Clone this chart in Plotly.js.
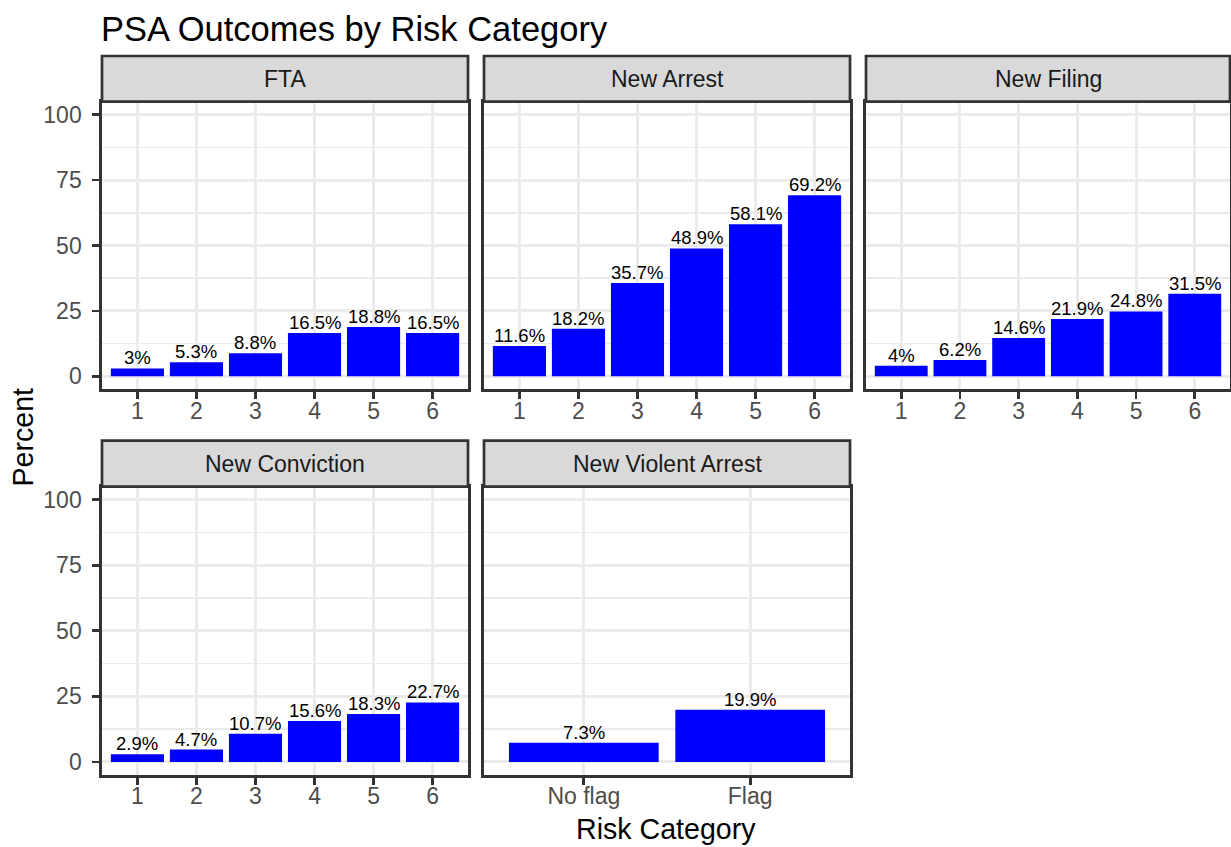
<!DOCTYPE html>
<html>
<head>
<meta charset="utf-8">
<script src="https://cdn.plot.ly/plotly-3.0.1.min.js"></script>
<style>
html,body{margin:0;padding:0;background:#fff;}
#chart{width:1231px;height:847px;}
</style>
</head>
<body>
<div id="chart"></div>
<script>
// ---- data ----
const panelNames = ["FTA", "New Arrest", "New Filing", "New Conviction", "New Violent Arrest"];
const riskCats = ["1", "2", "3", "4", "5", "6"];
const flagCats = ["No flag", "Flag"];
const fta = [3, 5.3, 8.8, 16.5, 18.8, 16.5];
const newArrest = [11.6, 18.2, 35.7, 48.9, 58.1, 69.2];
const newFiling = [4, 6.2, 14.6, 21.9, 24.8, 31.5];
const newConviction = [2.9, 4.7, 10.7, 15.6, 18.3, 22.7];
const newViolentArrest = [7.3, 19.9];
const yTicks = [0, 25, 50, 75, 100];
const yMinor = [12.5, 37.5, 62.5, 87.5];

// ---- layout geometry (pixels) ----
const W = 1231, H = 847;
const FONT = "Liberation Sans, Arial, Helvetica, sans-serif";
const cols = [[102, 468], [484, 850], [866, 1230]];
const rows = [{strip: [56, 101.7], plot: [101.7, 389.3]}, {strip: [440.7, 486.7], plot: [486.7, 775]}];
const panelPos = [[0, 0], [0, 1], [0, 2], [1, 0], [1, 1]];
const panelCats = [riskCats, riskCats, riskCats, riskCats, flagCats];
const panelVals = [fta, newArrest, newFiling, newConviction, newViolentArrest];

const px = v => v / W;
const py = v => 1 - v / H;

const traces = [];
const layout = {
  width: W, height: H,
  margin: {l: 0, r: 0, t: 0, b: 0},
  paper_bgcolor: "#ffffff",
  plot_bgcolor: "#ffffff",
  showlegend: false,
  bargap: 0.1,
  font: {family: FONT, color: "#000000"},
  title: {
    text: "PSA Outcomes by Risk Category",
    x: px(101), xanchor: "left", xref: "paper",
    y: py(29), yanchor: "middle", yref: "paper",
    font: {family: FONT, size: 34.5, color: "#000000"}
  },
  shapes: [],
  annotations: []
};

panelNames.forEach((name, k) => {
  const [r, c] = panelPos[k];
  const cats = panelCats[k];
  const vals = panelVals[k];
  const idx = k === 0 ? "" : String(k + 1);
  const xa = "x" + idx, ya = "y" + idx;
  const col = cols[c], row = rows[r];

  traces.push({
    type: "bar",
    x: cats, y: vals,
    xaxis: xa, yaxis: ya,
    marker: {color: "#0000FF", line: {width: 0}},
    hoverinfo: "x+y"
  });

  layout["xaxis" + idx] = {
    domain: [px(col[0]), px(col[1])],
    anchor: ya,
    type: "category",
    range: [-0.6, cats.length - 0.4],
    showgrid: true, gridcolor: "#EBEBEB", gridwidth: 3,
    showline: true, linecolor: "#333333", linewidth: 2.7, mirror: true,
    ticks: "outside", ticklen: 7, tickwidth: 2.7, tickcolor: "#333333",
    ticklabelstandoff: -8,
    tickfont: {family: FONT, size: 23, color: "#4D4D4D"},
    zeroline: false, fixedrange: true
  };
  const showY = c === 0;
  layout["yaxis" + idx] = {
    domain: [py(row.plot[1]), py(row.plot[0])],
    anchor: xa,
    range: [-5, 105],
    tickmode: "array", tickvals: yTicks, ticktext: yTicks.map(String),
    showticklabels: showY,
    ticks: showY ? "outside" : "", ticklen: 7, tickwidth: 2.7, tickcolor: "#333333",
    ticklabelstandoff: 6,
    tickfont: {family: FONT, size: 23, color: "#4D4D4D"},
    showgrid: true, gridcolor: "#EBEBEB", gridwidth: 3,
    minor: {tickmode: "array", tickvals: yMinor, showgrid: true, gridcolor: "#EBEBEB", gridwidth: 1.5, ticks: ""},
    showline: true, linecolor: "#333333", linewidth: 2.7, mirror: true,
    zeroline: false, fixedrange: true
  };

  // strip
  layout.shapes.push({
    type: "rect", xref: "paper", yref: "paper",
    x0: px(col[0]), x1: px(col[1]), y0: py(row.strip[1]), y1: py(row.strip[0]),
    fillcolor: "#D9D9D9", line: {color: "#333333", width: 2.7}, layer: "above"
  });
  layout.annotations.push({
    xref: "paper", yref: "paper",
    x: px((col[0] + col[1]) / 2), y: py((row.strip[0] + row.strip[1]) / 2),
    xanchor: "center", yanchor: "middle", showarrow: false,
    text: name, font: {family: FONT, size: 23, color: "#1A1A1A"}
  });

  // bar value labels (x given as category index so numeric-looking names map correctly)
  cats.forEach((cat, i) => {
    layout.annotations.push({
      xref: xa, yref: ya, x: i, y: vals[i],
      xanchor: "center", yanchor: "bottom", yshift: -2,
      showarrow: false, text: vals[i] + "%",
      font: {family: FONT, size: 18.5, color: "#000000"}
    });
  });
});

// axis titles
layout.annotations.push({
  xref: "paper", yref: "paper", x: px(666), y: py(829),
  xanchor: "center", yanchor: "middle", showarrow: false,
  text: "Risk Category", font: {family: FONT, size: 28.6, color: "#000000"}
});
layout.annotations.push({
  xref: "paper", yref: "paper", x: px(23), y: py(437.5),
  xanchor: "center", yanchor: "middle", showarrow: false, textangle: -90,
  text: "Percent", font: {family: FONT, size: 28.6, color: "#000000"}
});

Plotly.newPlot("chart", traces, layout, {displayModeBar: false, staticPlot: true});
</script>
</body>
</html>
